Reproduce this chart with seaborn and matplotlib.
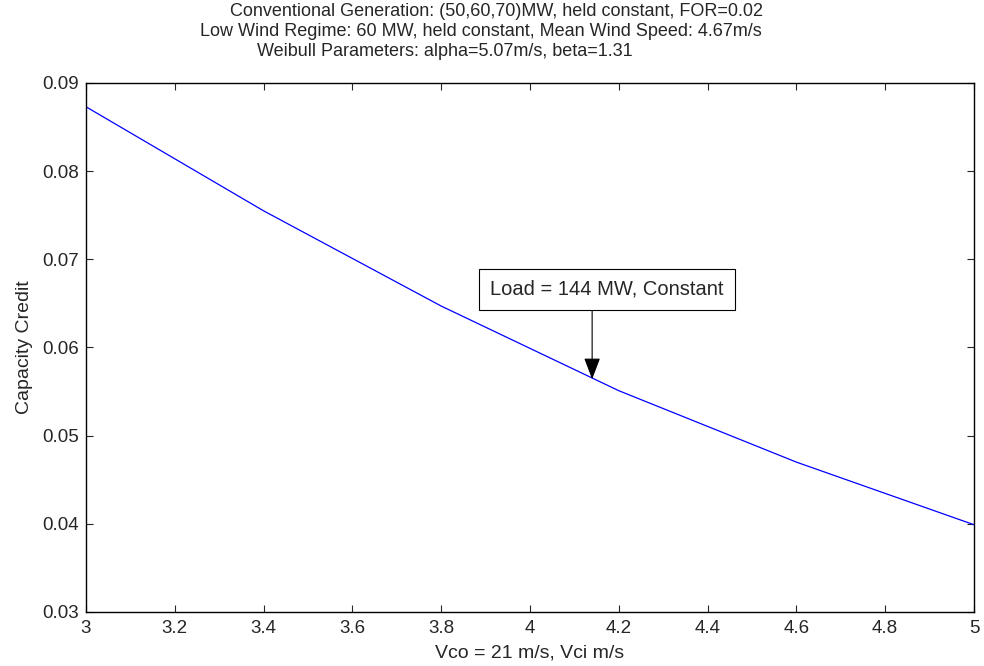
import seaborn as sns
import matplotlib.pyplot as plt
import pandas as pd

# Vci values and capacity credit
vci = [3.0, 3.4, 3.8, 4.2, 4.6, 5.0]
capacity_credit = [0.0873, 0.0755, 0.0647, 0.0551, 0.0470, 0.0399]

title_lines = [
    "Conventional Generation: (50,60,70)MW, held constant, FOR=0.02",
    "Low Wind Regime: 60 MW, held constant, Mean Wind Speed: 4.67m/s",
    "Weibull Parameters: alpha=5.07m/s, beta=1.31",
]
note = "Load = 144 MW, Constant"

df = pd.DataFrame({"vci": vci, "cc": capacity_credit})

sns.set_style("ticks")
plt.rcParams["font.family"] = ["Liberation Sans", "DejaVu Sans"]

fig = plt.figure(figsize=(9.84, 6.66), dpi=100)
ax = fig.add_axes([0.0874, 0.0811, 0.9024, 0.7943])

sns.lineplot(x="vci", y="cc", data=df, color="blue", linewidth=0.9, ax=ax)

ax.set_xlim(3, 5)
ax.set_ylim(0.03, 0.09)
ax.set_xticks([3, 3.2, 3.4, 3.6, 3.8, 4, 4.2, 4.4, 4.6, 4.8, 5])
ax.set_xticklabels(["3", "3.2", "3.4", "3.6", "3.8", "4", "4.2", "4.4", "4.6", "4.8", "5"])
ax.set_yticks([0.03, 0.04, 0.05, 0.06, 0.07, 0.08, 0.09])
ax.set_yticklabels(["0.03", "0.04", "0.05", "0.06", "0.07", "0.08", "0.09"])
ax.tick_params(direction="in", top=True, right=True, length=5, width=0.8,
               labelsize=13.5)
ax.tick_params(axis="x", pad=6)
ax.tick_params(axis="y", pad=5)
for s in ax.spines.values():
    s.set_visible(True)
    s.set_linewidth(1.0)
    s.set_color("black")

ax.set_xlabel("Vco = 21 m/s, Vci m/s", fontsize=14, labelpad=5)
ax.set_ylabel("Capacity Credit", fontsize=14, labelpad=7)

# three-line title, positioned like the original (padded char matrix)
fig.text(230 / 984, 1 - 12 / 666, title_lines[0], fontsize=13, va="center", ha="left")
fig.text(200 / 984, 1 - 32 / 666, title_lines[1], fontsize=13, va="center", ha="left")
fig.text(257 / 984, 1 - 52 / 666, title_lines[2], fontsize=13, va="center", ha="left")

# text arrow
ax.annotate("", xy=(4.14, 0.0564), xytext=(4.14, 0.06426),
            arrowprops=dict(arrowstyle="-|>,head_length=0.95,head_width=0.36",
                            color="black", lw=0.8,
                            mutation_scale=14, shrinkA=0, shrinkB=0))
ax.text(3.91, 0.0666, note, fontsize=14.5, va="center", ha="left",
        bbox=dict(boxstyle="square,pad=0.55", fc="white", ec="black", lw=0.8))

fig.savefig("out.png", dpi=100)
